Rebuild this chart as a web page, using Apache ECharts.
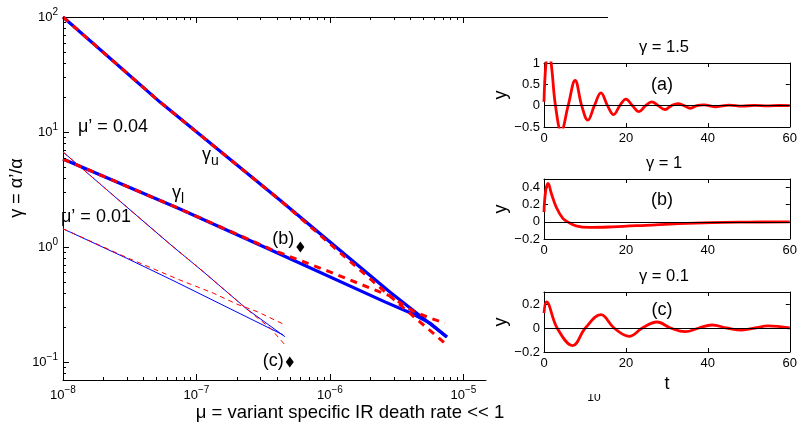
<!DOCTYPE html>
<html><head><meta charset="utf-8">
<script src="https://cdn.jsdelivr.net/npm/echarts@6/dist/echarts.min.js"></script>
<style>html,body{margin:0;padding:0;background:#fff}#c{width:800px;height:425px}</style>
</head><body><div id="c"></div>
<script>
// ---------- main panel data (mu, gamma) ----------
const muUpperBlue    = [1e-8, 5.33e-8, 4.21e-7, 2.81e-6, 7.52e-6];
const gammaUpperBlue = [100, 18.2, 2.56, 0.406, 0.165];
const muUpperRed     = [1e-8, 5.33e-8, 4.21e-7, 2.49e-6, 4.72e-6, 7.26e-6];
const gammaUpperRed  = [100, 18.2, 2.56, 0.423, 0.223, 0.146];
const muLowerBlue    = [1e-8, 7.52e-8, 3.61e-7, 2.58e-6, 4.19e-6, 5.61e-6, 7.52e-6];
const gammaLowerBlue = [5.82, 2.14, 0.942, 0.333, 0.261, 0.218, 0.165];
const muLowerRed     = [1e-8, 7.52e-8, 3.61e-7, 1e-6, 2.81e-6, 4.19e-6, 5.61e-6, 7.26e-6];
const gammaLowerRed  = [5.82, 2.14, 0.955, 0.607, 0.375, 0.277, 0.241, 0.218];
// mu' = 0.01 (thin lines)
const muSteepBlue    = [1e-8, 3.0e-8, 6.32e-8, 1.12e-7, 2.38e-7, 4.6e-7];
const gammaSteepBlue = [6.70, 2.23, 1.06, 0.612, 0.289, 0.166];
const muSteepRed     = [1e-8, 3.0e-8, 6.32e-8, 1.12e-7, 2.38e-7, 2.99e-7, 3.56e-7, 4.6e-7];
const gammaSteepRed  = [6.70, 2.23, 1.06, 0.612, 0.289, 0.232, 0.198, 0.141];
const muShallowBlue    = [1e-8, 3.0e-8, 6.32e-8, 4.45e-7];
const gammaShallowBlue = [1.44, 0.798, 0.527, 0.172];
const muShallowRed     = [1e-8, 3.0e-8, 7.52e-8, 1.33e-7, 2.0e-7, 2.87e-7, 4.45e-7];
const gammaShallowRed  = [1.44, 0.81, 0.516, 0.398, 0.319, 0.273, 0.214];
// marked cases
const caseNames = ['(b)', '(c)'];
const caseMu    = [6e-7, 5e-7];
const caseGamma = [1.0, 0.1];
// axis ranges / ticks
const muRange = [1e-8, 1.476e-5];
const gammaRange = [0.0697, 100];
const muDecades = [1e-8, 1e-7, 1e-6, 1e-5];
const gammaDecades = [0.01, 0.1, 1, 10];
const mantissas = [1, 2, 3, 4, 5, 6, 7, 8, 9];

// ---------- small panels: y(t) ----------
const panelTitles = ['γ = 1.5', 'γ = 1', 'γ = 0.1'];
const panelTags = ['(a)', '(b)', '(c)'];
const tA = [0, 0.45, 1.1, 1.8, 2.8, 4.2, 5.9, 7.6, 9.2, 10.7, 12.3, 13.9, 15.5, 17.0, 18.5, 20.0, 21.6, 23.2, 24.8, 26.3, 27.9, 29.5, 31.1, 32.7, 34.2, 35.7, 37.3, 39.0, 42.0, 45.2, 48.3, 51.4, 54.5, 57.5, 60];
const yA = [0.09, 0.95, 1.3, 0.95, 0, -0.6, 0, 0.59, 0, -0.34, 0, 0.30, 0, -0.21, 0, 0.155, 0, -0.14, 0, 0.09, 0, -0.09, 0, 0.05, 0, -0.06, 0, 0.02, -0.025, 0.012, -0.012, 0.008, -0.006, 0.004, 0];
const tB = [0, 0.4, 1.0, 1.8, 3.0, 4.6, 5.8, 7.8, 11, 16.7, 24.8, 32.9, 41, 50, 60];
const yB = [0.115, 0.36, 0.45, 0.33, 0.17, 0.04, 0, -0.046, -0.065, -0.058, -0.04, -0.02, -0.008, -0.003, 0];
const tC = [0, 0.6, 3.2, 7.0, 10.1, 13.9, 17.1, 20.8, 24.0, 27.6, 30.9, 34.5, 37.8, 41.0, 44.6, 48.3, 51.5, 54.7, 60];
const yC = [0.125, 0.217, 0, -0.147, 0, 0.111, 0, -0.069, 0, 0.05, 0, -0.031, 0, 0.025, 0, -0.017, 0, 0.017, 0];
const panelY = [[-0.5, 1, 0.5], [-0.2, 0.5, 0.2], [-0.2, 0.3, 0.2]];

// ---------- build ----------
const FONT = '"Liberation Sans", Arial, sans-serif';
const BLUE = '#0000ff', RED = '#ff0000';
const MAIN = {left: 63, top: 17, width: 423, height: 363};
const SUBS = [
  {left: 544, top: 63, width: 248, height: 64},
  {left: 544, top: 179, width: 248, height: 60},
  {left: 544, top: 292, width: 248, height: 60}
];
const pairs = (xs, ys) => xs.map((x, i) => [x, ys[i]]);
const isPow10 = v => { const l = Math.log10(v); return Math.abs(l - Math.round(l)) < 1e-6; };
const expLabel = v => { const e = Math.round(Math.log10(v)); return '{b|10}{s|' + String(e).replace('-', '−') + '}'; };
const richExp = {b: {fontSize: 13, fontFamily: FONT, color: '#000'}, s: {fontSize: 10, fontFamily: FONT, color: '#000', padding: [0, 0, 10, 0]}};

const muTicks = [];
muDecades.forEach(d => mantissas.forEach(m => { const v = d * m; if (v >= muRange[0] * 0.999 && v <= muRange[1]) muTicks.push([v, 1]); }));
const gammaTicks = [];
gammaDecades.forEach(d => mantissas.forEach(m => { const v = d * m; if (v >= gammaRange[0] && v <= gammaRange[1] * 1.001) gammaTicks.push([1e-8, v]); }));
const mainTickPos = v => Math.round(v / Math.pow(10, Math.floor(Math.log10(v) + 1e-9))) === 1;

const grids = [MAIN].concat(SUBS).map(g => Object.assign({containLabel: false}, g));

const xAxes = [{
  type: 'log', logBase: 10, gridIndex: 0, min: muRange[0], max: muRange[1],
  axisLine: {show: true, lineStyle: {color: '#000', width: 1}},
  axisTick: {show: false}, minorTick: {show: false}, splitLine: {show: false},
  axisLabel: {margin: 5, formatter: v => isPow10(v) ? expLabel(v) : '', rich: richExp, showMinLabel: true, showMaxLabel: false}
}];
const yAxes = [{
  type: 'log', logBase: 10, gridIndex: 0, min: gammaRange[0], max: gammaRange[1],
  axisLine: {show: true, lineStyle: {color: '#000', width: 1}},
  axisTick: {show: false}, minorTick: {show: false}, splitLine: {show: false},
  axisLabel: {margin: 5, formatter: v => isPow10(v) ? expLabel(v) : '', rich: richExp, showMinLabel: false, showMaxLabel: true}
}];
const minus = v => String(Math.round(v * 100) / 100).replace('-', '−');
SUBS.forEach((g, i) => {
  const gi = i + 1;
  const base = {
    type: 'value', gridIndex: gi, splitLine: {show: false},
    axisLine: {show: true, onZero: false, lineStyle: {color: '#000', width: 1}},
    axisTick: {show: true, inside: true, length: 4, lineStyle: {color: '#000'}}
  };
  xAxes.push(Object.assign({}, base, {position: 'bottom', min: 0, max: 60, interval: 20,
    axisLabel: {color: '#000', fontSize: 13, fontFamily: FONT, margin: 5},
    name: i === 2 ? 't' : '', nameLocation: 'middle', nameGap: 23,
    nameTextStyle: {color: '#000', fontSize: 18, fontFamily: FONT}}));
  xAxes.push(Object.assign({}, base, {position: 'top', min: 0, max: 60, interval: 20, axisLabel: {show: false}}));
  const [mn, mx, it] = panelY[i];
  yAxes.push(Object.assign({}, base, {position: 'left', min: mn, max: mx, interval: it,
    axisLabel: {color: '#000', fontSize: 13, fontFamily: FONT, margin: 4, formatter: minus, showMaxLabel: i === 0},
    name: 'y', nameLocation: 'middle', nameGap: 34, nameRotate: 90,
    nameTextStyle: {color: '#000', fontSize: 18, fontFamily: FONT}}));
  yAxes.push(Object.assign({}, base, {position: 'right', min: mn, max: mx, interval: it, axisLabel: {show: false}}));
});

function lineS(data, color, width, type, z) {
  return {type: 'line', xAxisIndex: 0, yAxisIndex: 0, data: data, showSymbol: false, symbol: 'none',
    lineStyle: {color: color, width: width, type: type, cap: 'butt'}, z: z, silent: true, animation: false};
}
const series = [
  lineS(pairs(muUpperBlue, gammaUpperBlue), BLUE, 3.2, 'solid', 2),
  lineS(pairs(muLowerBlue, gammaLowerBlue), BLUE, 3.2, 'solid', 2),
  lineS(pairs(muSteepBlue, gammaSteepBlue), BLUE, 1, 'solid', 3),
  lineS(pairs(muShallowBlue, gammaShallowBlue), BLUE, 1, 'solid', 3),
  lineS(pairs(muSteepRed, gammaSteepRed), RED, 1, [5, 4], 4),
  lineS(pairs(muShallowRed, gammaShallowRed), RED, 1, [5, 4], 4),
  lineS(pairs(muUpperRed, gammaUpperRed), RED, 3, [7, 6], 5),
  lineS(pairs(muLowerRed, gammaLowerRed), RED, 3, [7, 6], 5),
  {type: 'scatter', xAxisIndex: 0, yAxisIndex: 0, symbol: 'diamond', symbolSize: [8, 11], z: 6,
   itemStyle: {color: '#000', opacity: 1}, silent: true, animation: false,
   label: {show: true, position: 'left', distance: 2, formatter: '{b}', color: '#000', opacity: 1,
     fontSize: 18, fontFamily: FONT, textBorderWidth: 0},
   emphasis: {disabled: true},
   data: caseMu.map((m, i) => ({value: [m, caseGamma[i]], name: caseNames[i],
     label: {offset: i === 0 ? [0, -8] : [0, -1]}}))},
  {type: 'custom', xAxisIndex: 0, yAxisIndex: 0, data: muTicks, clip: false, silent: true, z: 7, animation: false,
   renderItem: (params, api) => {
     const v = api.value(0); const cs = params.coordSys; const x = Math.round(api.coord([v, 1])[0]) + 0.5;
     const len = mainTickPos(v) ? 6 : 3; const b = cs.y + cs.height;
     return {type: 'group', children: [
       {type: 'line', shape: {x1: x, y1: b, x2: x, y2: b - len}, style: {stroke: '#000', lineWidth: 1}},
       {type: 'line', shape: {x1: x, y1: cs.y, x2: x, y2: cs.y + len}, style: {stroke: '#000', lineWidth: 1}}]};
   }},
  {type: 'custom', xAxisIndex: 0, yAxisIndex: 0, data: gammaTicks, clip: false, silent: true, z: 7, animation: false,
   renderItem: (params, api) => {
     const v = api.value(1); const cs = params.coordSys; const y = Math.round(api.coord([1e-8, v])[1]) + 0.5;
     const len = mainTickPos(v) ? 6 : 3;
     return {type: 'line', shape: {x1: cs.x, y1: y, x2: cs.x + len, y2: y}, style: {stroke: '#000', lineWidth: 1}};
   }}
];
[[tA, yA], [tB, yB], [tC, yC]].forEach(([t, y], i) => {
  series.push({type: 'line', xAxisIndex: 1 + 2 * i, yAxisIndex: 1 + 2 * i, data: pairs(t, y), smooth: 0.4,
    showSymbol: false, symbol: 'none', clip: true, silent: true, animation: false, z: 3,
    lineStyle: {color: RED, width: 2.8},
    markLine: {silent: true, symbol: 'none', label: {show: false}, animation: false,
      lineStyle: {color: '#000', width: 1, type: 'solid'}, data: [{yAxis: 0}]}});
});

const txt = (x, y, text, size, extra) => Object.assign({type: 'text', x: x, y: y, silent: true,
  style: Object.assign({text: text, fill: '#000', font: size + 'px ' + FONT, textAlign: 'left', textVerticalAlign: 'middle'}, extra || {})});
const graphic = [
  {type: 'line', silent: true, shape: {x1: MAIN.left, y1: MAIN.top + 0.5, x2: 608, y2: MAIN.top + 0.5}, style: {stroke: '#000', lineWidth: 1}},
  txt(17, 188, 'γ = α’/α', 18, {textAlign: 'center'}),
  txt(350, 413, 'μ = variant specific IR death rate << 1', 18.5, {textAlign: 'center'}),
  txt(78, 127, 'μ’ = 0.04', 18),
  txt(61, 217, 'μ’ = 0.01', 18),
  {type: 'text', x: 202, y: 155, silent: true, style: {text: '{g|γ}{s|u}', textVerticalAlign: 'middle',
    rich: {g: {fontSize: 18, fontFamily: FONT, fill: '#000'}, s: {fontSize: 14, fontFamily: FONT, fill: '#000', padding: [12, 0, 0, 0]}}}},
  {type: 'text', x: 172, y: 193, silent: true, style: {text: '{g|γ}{s|l}', textVerticalAlign: 'middle',
    rich: {g: {fontSize: 18, fontFamily: FONT, fill: '#000'}, s: {fontSize: 14, fontFamily: FONT, fill: '#000', padding: [12, 0, 0, 0]}}}},
  txt(594, 398, '10', 12, {textAlign: 'center'}),
  {type: 'rect', silent: true, shape: {x: 584, y: 386, width: 22, height: 8}, style: {fill: '#fff'}}
];
graphic[1].rotation = Math.PI / 2;
SUBS.forEach((g, i) => {
  graphic.push(txt(g.left + g.width / 2 - 4, g.top - 16, panelTitles[i], 16.5, {textAlign: 'center'}));
  graphic.push(txt(g.left + 118, g.top + (i === 0 ? 22 : i === 1 ? 21 : 18), panelTags[i], 18, {textAlign: 'center'}));
});

const chart = echarts.init(document.getElementById('c'), null, {renderer: 'canvas'});
chart.setOption({
  animation: false, backgroundColor: '#fff',
  textStyle: {fontFamily: FONT, color: '#000'},
  grid: grids, xAxis: xAxes, yAxis: yAxes, series: series, graphic: graphic
});
</script></body></html>
